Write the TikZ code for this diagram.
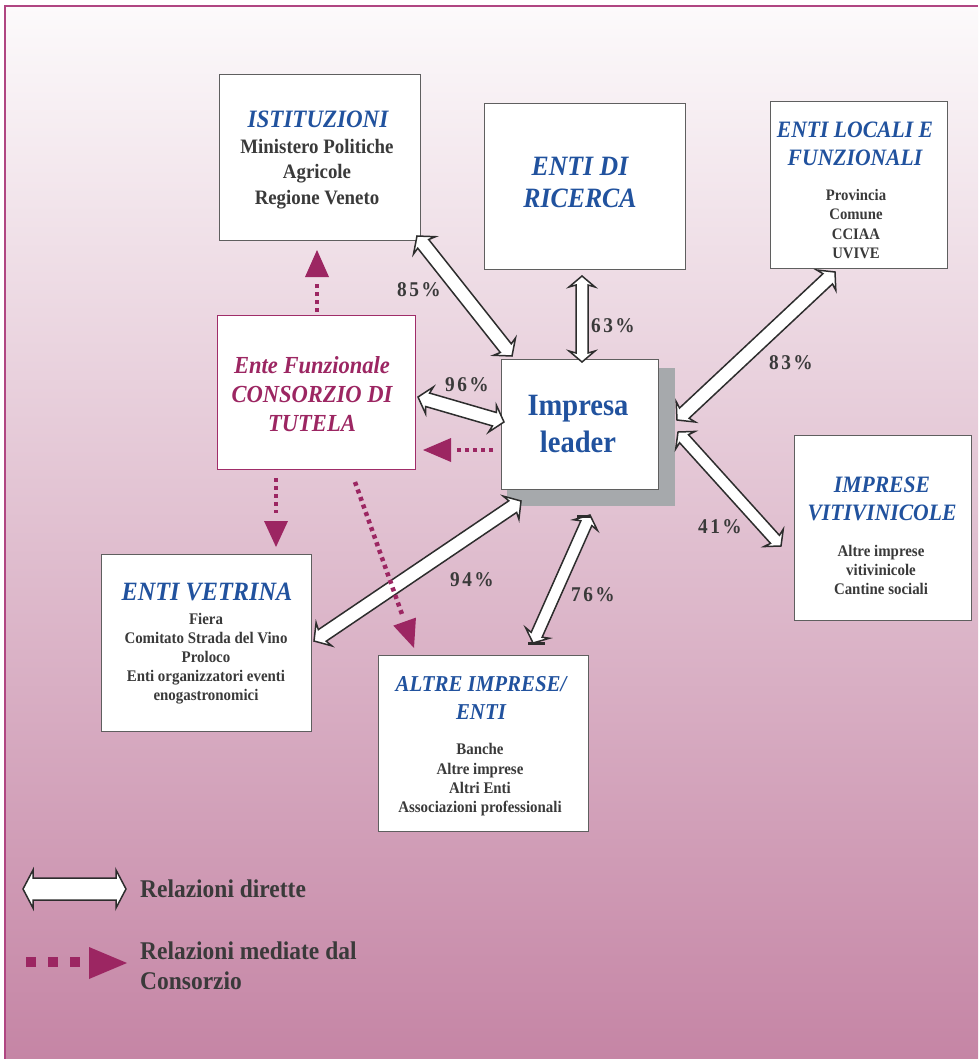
\documentclass[tikz,border=0pt]{standalone}
\usepackage{fontspec}
\setmainfont{Liberation Serif}[FakeStretch=0.92]
\usetikzlibrary{calc}
\definecolor{tblue}{RGB}{33,82,158}
\definecolor{mag}{RGB}{156,38,98}
\definecolor{cmag}{RGB}{160,45,105}
\definecolor{tgray}{RGB}{58,58,58}
\definecolor{bgray}{RGB}{95,95,95}
\definecolor{sgray}{RGB}{166,169,172}
\definecolor{frm}{RGB}{176,70,130}
\definecolor{bgtop}{RGB}{252,250,251}
\definecolor{bgbot}{RGB}{197,133,165}
\definecolor{aline}{RGB}{45,45,45}
\newcommand\fs[2]{\fontsize{#1}{#2}\selectfont}
\newcommand\pc[2]{#1\kern2.5pt#2\kern2.5pt\%}
% block double arrow: from, to, name, shaft half, head half, join dist, wing dist
\newcommand\blockarrowx[7]{%
  \coordinate (#3a) at ($(#1)!#6!(#2)$);
  \coordinate (#3w) at ($(#1)!#7!(#2)$);
  \coordinate (#3b) at ($(#2)!#6!(#1)$);
  \coordinate (#3v) at ($(#2)!#7!(#1)$);
  \draw[blk] (#1) -- ($(#3w)!#5!90:(#2)$) -- ($(#3a)!#4!90:(#2)$) -- ($(#3b)!#4!-90:(#1)$) -- ($(#3v)!#5!-90:(#1)$) -- (#2) -- ($(#3v)!#5!90:(#1)$) -- ($(#3b)!#4!90:(#1)$) -- ($(#3a)!#4!-90:(#2)$) -- ($(#3w)!#5!-90:(#2)$) -- cycle;
}
\newcommand\blockarrow[3]{\blockarrowx{#1}{#2}{#3}{7pt}{14pt}{10pt}{12pt}}
% dotted arrow: start, tip, name, head length, head half, line end distance
\newcommand\dotarrow[6]{%
  \coordinate (#3b) at ($(#2)!#4!(#1)$);
  \coordinate (#3e) at ($(#2)!#6!(#1)$);
  \draw[dotl] (#1) -- (#3e);
  \fill[mag] (#2) -- ($(#3b)!#5!90:(#2)$) -- ($(#3b)!#5!-90:(#2)$) -- cycle;
}
\tikzset{
  box/.style={draw=bgray, line width=1.2pt, fill=white, inner sep=0pt, anchor=north west},
  ttl/.style={text=tblue, font=\bfseries\itshape, align=center, inner sep=0pt},
  bod/.style={text=tgray, font=\bfseries, align=center, inner sep=0pt},
  pct/.style={text=tgray, font=\bfseries\fs{21}{24}, inner sep=0pt},
  blk/.style={draw=aline, line width=1.5pt, fill=white, line join=miter},
  dotl/.style={draw=mag, line width=4.5pt, dash pattern=on 4pt off 4pt},
  leg/.style={text=tgray, font=\bfseries\fs{25.5}{30}, align=left, inner sep=0pt},
}
\begin{document}
\begin{tikzpicture}[x=1pt,y=-1pt]
\useasboundingbox (0,0) rectangle (978,1059);
\fill[white] (0,0) rectangle (978,1059);
\shade[top color=bgtop, bottom color=bgbot] (5,6) rectangle (978,1059);
\draw[frm, line width=1.5pt] (5,1059) -- (5,6) -- (978,6);

% boxes
\node[box, minimum width=201pt, minimum height=166pt] (ist) at (219,74) {};
\node[box, minimum width=201pt, minimum height=166pt] (ric) at (484,103) {};
\node[box, minimum width=177pt, minimum height=167pt] (loc) at (770,101) {};
\node[box, draw=cmag, line width=1pt, minimum width=198pt, minimum height=154pt] (con) at (217,315) {};
\fill[sgray] (507,368) rectangle (675,506);
\node[box, minimum width=157pt, minimum height=130pt] (imp) at (501,359) {};
\node[box, minimum width=177pt, minimum height=185pt] (viti) at (794,435) {};
\node[box, minimum width=210pt, minimum height=177pt] (vet) at (101,554) {};
\node[box, minimum width=210pt, minimum height=176pt] (alt) at (378,655) {};

% texts
\node[ttl, font=\bfseries\itshape\fs{25}{30}] (istT) at (318,119) {ISTITUZIONI};
\node[bod, font=\bfseries\fs{20.5}{25.5}] (istB) at (317,174) {Ministero Politiche\\Agricole\\Regione Veneto};
\node[ttl, font=\bfseries\itshape\fs{28}{32}] (ricT) at (580,182) {ENTI DI\\RICERCA};
\node[ttl, font=\bfseries\itshape\fs{23.5}{28}] (locT) at (855,144) {ENTI LOCALI E\\FUNZIONALI};
\node[bod, font=\bfseries\fs{16}{19.3}] (locB) at (856,224) {Provincia\\Comune\\CCIAA\\UVIVE};
\node[text=mag, font=\bfseries\itshape\fs{24.5}{29}, align=center, inner sep=0pt] (conT) at (312,394) {Ente Funzionale\\CONSORZIO DI\\TUTELA};
\node[text=tblue, font=\bfseries\fs{31}{37}, align=center, inner sep=0pt] (impT) at (578,424) {Impresa\\leader};
\node[ttl, font=\bfseries\itshape\fs{23.5}{28}] (vitiT) at (882,498.5) {IMPRESE\\VITIVINICOLE};
\node[bod, font=\bfseries\fs{16.2}{19}] (vitiB) at (881,570) {Altre imprese\\vitivinicole\\Cantine sociali};
\node[ttl, font=\bfseries\itshape\fs{26.4}{30}] (vetT) at (207,592) {ENTI VETRINA};
\node[bod, font=\bfseries\fs{16.2}{19}] (vetB) at (206,659) {Fiera\\Comitato Strada del Vino\\Proloco\\Enti organizzatori eventi\\enogastronomici};
\node[ttl, font=\bfseries\itshape\fs{22.7}{28}] (altT) at (481,698) {ALTRE IMPRESE/\\ENTI};
\node[bod, font=\bfseries\fs{16.2}{19.3}] (altB) at (480,780) {Banche\\Altre imprese\\Altri Enti\\Associazioni professionali};

% block arrows (direct relations)
\coordinate (e85a) at (417,236); \coordinate (e85b) at (512,356);
\coordinate (e63a) at (582,276); \coordinate (e63b) at (582,362);
\coordinate (e83a) at (835,272); \coordinate (e83b) at (677,420);
\coordinate (e96a) at (418,397); \coordinate (e96b) at (504,422);
\coordinate (e41a) at (678,432); \coordinate (e41b) at (781,546);
\coordinate (e94a) at (521,501); \coordinate (e94b) at (314,641);
\coordinate (e76a) at (590,515); \coordinate (e76b) at (533,643);
\blockarrow{e85a}{e85b}{a85}
\blockarrowx{e63a}{e63b}{a63}{6pt}{13pt}{9pt}{11pt}
\blockarrow{e83a}{e83b}{a83}
\blockarrow{e96a}{e96b}{a96}
\blockarrowx{e41a}{e41b}{a41}{6pt}{13pt}{9pt}{11pt}
\blockarrow{e94a}{e94b}{a94}
\blockarrowx{e76a}{e76b}{a76}{6pt}{13pt}{9pt}{11pt}
\draw[aline, line width=3pt] (577,516) -- (591,516);
\draw[aline, line width=3pt] (528,643) -- (545,643);

% percentages
\node[pct] (p85) at (419,290) {\pc{8}{5}};
\node[pct] (p63) at (613,326) {\pc{6}{3}};
\node[pct] (p96) at (467,385) {\pc{9}{6}};
\node[pct] (p83) at (791,363) {\pc{8}{3}};
\node[pct] (p41) at (720,527) {\pc{4}{1}};
\node[pct] (p94) at (472,580) {\pc{9}{4}};
\node[pct] (p76) at (593,595) {\pc{7}{6}};

% dotted arrows (mediated relations)
\coordinate (d1s) at (317,312); \coordinate (d1t) at (317,250);
\coordinate (d2s) at (493,450); \coordinate (d2t) at (423,450);
\coordinate (d3s) at (276,478); \coordinate (d3t) at (276,547);
\coordinate (d4s) at (355,482); \coordinate (d4t) at (414,648);
\dotarrow{d1s}{d1t}{m1}{27pt}{12pt}{33pt}
\dotarrow{d2s}{d2t}{m2}{28pt}{12pt}{34pt}
\dotarrow{d3s}{d3t}{m3}{26pt}{12pt}{34pt}
\dotarrow{d4s}{d4t}{m4}{28pt}{12pt}{34pt}

% legend
\coordinate (l1a) at (23,889); \coordinate (l1b) at (126,889);
\blockarrowx{l1a}{l1b}{la}{11pt}{19pt}{10pt}{10pt}
\node[leg, anchor=base west] (lt1) at (140,897) {Relazioni dirette};
\coordinate (l2a) at (26,962); \coordinate (l2e) at (82,962); \coordinate (l2t) at (127,963);
\draw[mag, line width=10pt, dash pattern=on 10pt off 12pt] (l2a) -- (l2e);
\fill[mag] (l2t) -- (89,947) -- (89,979) -- cycle;
\node[leg, anchor=north west] (lt2) at (140,941.5) {Relazioni mediate dal\\Consorzio};
\end{tikzpicture}
\end{document}
